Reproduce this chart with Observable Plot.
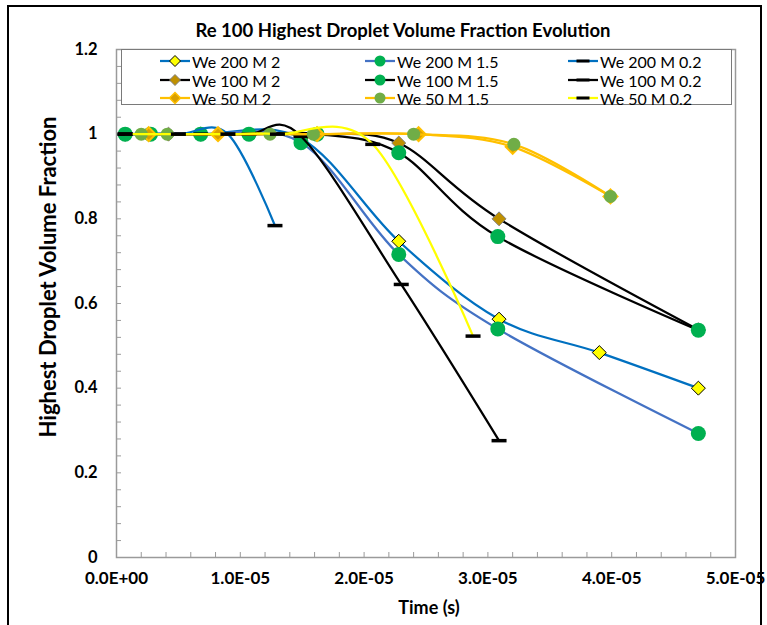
<!DOCTYPE html>
<html>
<head>
<meta charset="utf-8">
<script src="https://cdn.jsdelivr.net/npm/d3@7"></script>
<script src="https://cdn.jsdelivr.net/npm/@observablehq/plot@0.6"></script>
<style>
  body { margin: 0; background: #fff; font-family: Lato, "Open Sans", sans-serif; }
  #wrap { position: relative; width: 767px; height: 625px; overflow: hidden; background: #fff; }
  #chart { position: absolute; left: 0; top: 0; }
  #border { position: absolute; left: 7px; top: 5px; width: 755px; height: 700px; border: 2px solid #000; box-sizing: border-box; pointer-events: none; }
  .ttl { position: absolute; font-weight: bold; color: #000; text-align: center; white-space: nowrap; }
  #legend { position: absolute; left: 121px; top: 49px; width: 611px; height: 56px; border: 1px solid #7a7a7a; background: #fff; box-sizing: border-box; }
  .li { position: absolute; height: 18px; display: flex; align-items: center; font-size: 16px; color: #000; white-space: nowrap; }
  .li svg { margin-right: 2px; }
</style>
</head>
<body>
<div id="wrap">
  <div id="chart"></div>
  <div class="ttl" id="title" style="left:103px; top:19px; width:600px; font-size:18.5px; line-height:22px;"></div>
  <div class="ttl" id="ylab" style="left:-152px; top:264px; width:400px; font-size:22px; line-height:26px; transform:rotate(-90deg);"></div>
  <div class="ttl" id="xlab" style="left:329px; top:596px; width:200px; font-size:18px; line-height:22px;"></div>
  <div id="legend"></div>
  <div id="border"></div>
</div>
<script>
// ---- Text ----
const chartTitle = "Re 100 Highest Droplet Volume Fraction Evolution";
const yTitle = "Highest Droplet Volume Fraction";
const xTitle = "Time (s)";

// ---- Tick labels ----
const xTicks = [0, 1e-5, 2e-5, 3e-5, 4e-5, 5e-5];
const yTicks = [0, 0.2, 0.4, 0.6, 0.8, 1, 1.2];

// ---- Series names ----
const seriesNames = ["We 200 M 2", "We 100 M 2", "We 50 M 2",
                     "We 200 M 1.5", "We 100 M 1.5", "We 50 M 1.5",
                     "We 200 M 0.2", "We 100 M 0.2", "We 50 M 0.2"];

// ---- Series values (time in s, volume fraction) ----
const t_we200_m2  = [0.07e-5, 0.68e-5, 1.49e-5, 2.28e-5, 3.09e-5, 3.90e-5, 4.70e-5];
const v_we200_m2  = [1, 1, 0.99, 0.747, 0.563, 0.484, 0.400];
const t_we200_m15 = [0.07e-5, 0.68e-5, 1.49e-5, 2.28e-5, 3.08e-5, 4.70e-5];
const v_we200_m15 = [1, 1, 0.980, 0.716, 0.540, 0.293];
const t_we200_m02 = [0.07e-5, 0.50e-5, 0.90e-5, 1.28e-5];
const v_we200_m02 = [1, 1, 1, 0.784];
const t_we100_m2  = [0.42e-5, 1.08e-5, 1.62e-5, 2.28e-5, 3.09e-5, 4.70e-5];
const v_we100_m2  = [1, 1, 1, 0.979, 0.800, 0.538];
const t_we100_m15 = [0.275e-5, 1.07e-5, 1.62e-5, 2.28e-5, 3.08e-5, 4.70e-5];
const v_we100_m15 = [1, 1, 1, 0.956, 0.758, 0.537];
const t_we100_m02 = [0.07e-5, 0.68e-5, 1.07e-5, 1.49e-5, 2.30e-5, 3.09e-5];
const v_we100_m02 = [1, 1, 1, 0.995, 0.645, 0.276];
const t_we50_m2   = [0.26e-5, 0.82e-5, 1.62e-5, 2.44e-5, 3.20e-5, 3.99e-5];
const v_we50_m2   = [1, 1, 1, 1, 0.970, 0.853];
const t_we50_m15  = [0.20e-5, 0.41e-5, 1.24e-5, 1.59e-5, 2.40e-5, 3.21e-5, 3.99e-5];
const v_we50_m15  = [1, 1, 1, 1, 1, 0.976, 0.853];
const t_we50_m02  = [0.07e-5, 0.50e-5, 0.90e-5, 1.30e-5, 2.07e-5, 2.88e-5];
const v_we50_m02  = [1, 1, 1, 1, 0.976, 0.523];

// ---- Styles (drawing order = Excel series order) ----
const dashSymbol = { draw(ctx) { ctx.rect(-7.5, -1.75, 15, 3.5); } };
const styles = {
  "We 200 M 2":   { line: "#0070C0", symbol: "diamond2", r: 6.3, fill: "#FFFF00", stroke: "#000", sw: 1 },
  "We 200 M 1.5": { line: "#4472C4", symbol: "circle",   r: 7.5, fill: "#00B050", stroke: "none", sw: 0 },
  "We 200 M 0.2": { line: "#0070C0", symbol: dashSymbol, r: 5,   fill: "#000",    stroke: "none", sw: 0 },
  "We 100 M 2":   { line: "#000000", symbol: "diamond2", r: 6.3, fill: "#BF9000", stroke: "#7F7F7F", sw: 1 },
  "We 100 M 1.5": { line: "#000000", symbol: "circle",   r: 7.5, fill: "#00B050", stroke: "none", sw: 0 },
  "We 100 M 0.2": { line: "#000000", symbol: dashSymbol, r: 5,   fill: "#000",    stroke: "none", sw: 0 },
  "We 50 M 2":    { line: "#FFC000", symbol: "diamond2", r: 6.3, fill: "#D9A000", stroke: "#FFC000", sw: 2 },
  "We 50 M 1.5":  { line: "#FFC000", symbol: "circle",   r: 6.5, fill: "#70AD47", stroke: "none", sw: 0 },
  "We 50 M 0.2":  { line: "#FFFF00", symbol: dashSymbol, r: 5,   fill: "#000",    stroke: "none", sw: 0 }
};

const seriesData = [
  ["We 200 M 2", t_we200_m2, v_we200_m2],
  ["We 200 M 1.5", t_we200_m15, v_we200_m15],
  ["We 200 M 0.2", t_we200_m02, v_we200_m02],
  ["We 100 M 2", t_we100_m2, v_we100_m2],
  ["We 100 M 1.5", t_we100_m15, v_we100_m15],
  ["We 100 M 0.2", t_we100_m02, v_we100_m02],
  ["We 50 M 2", t_we50_m2, v_we50_m2],
  ["We 50 M 1.5", t_we50_m15, v_we50_m15],
  ["We 50 M 0.2", t_we50_m02, v_we50_m02]
];

function fmtExp(d) {
  const [m, e] = d.toExponential(1).split("e");
  const sign = e[0] === "-" ? "-" : "+";
  const digits = e.replace(/^[+-]/, "").padStart(2, "0");
  return `${m}E${sign}${digits}`;
}

const xMinor = d3.range(0, 26).map(i => i * 2e-6);
const yMinor = d3.range(0, 31).map(i => i * 0.04);

const marks = [];
for (const [name, ts, vs] of seriesData) {
  const rows = ts.map((t, i) => ({ t, v: vs[i] }));
  const s = styles[name];
  marks.push(Plot.line(rows, { x: "t", y: "v", stroke: s.line, strokeWidth: 2.25, curve: "cardinal" }));
  marks.push(Plot.dot(rows, { x: "t", y: "v", symbol: s.symbol, r: s.r, fill: s.fill, stroke: s.stroke, strokeWidth: s.sw }));
}

const plot = Plot.plot({
  width: 767,
  height: 625,
  marginLeft: 116,
  marginRight: 32,
  marginTop: 49,
  marginBottom: 68,
  style: { fontFamily: "Lato, 'Open Sans', sans-serif", fontSize: "17px", fontWeight: "bold", color: "#000", background: "transparent" },
  x: { domain: [0, 5e-5] },
  y: { domain: [0, 1.2] },
  marks: [
    Plot.axisX(xMinor, { tickSize: -5, stroke: "#9a9a9a", fill: "none", label: null }),
    Plot.axisY(yMinor, { tickSize: -5, stroke: "#9a9a9a", fill: "none", label: null }),
    Plot.axisX(xTicks, { tickSize: 0, tickPadding: 14, tickFormat: fmtExp, label: null, fontSize: 17, fill: "#000" }),
    Plot.axisY(yTicks, { tickSize: 0, tickPadding: 19, tickFormat: d => String(+d.toFixed(1)), label: null, fontSize: 16.5, fill: "#000" }),
    Plot.frame({ stroke: "#9a9a9a", strokeWidth: 1.5 }),
    ...marks
  ]
});
document.getElementById("chart").appendChild(plot);

document.getElementById("title").textContent = chartTitle;
document.getElementById("ylab").textContent = yTitle;
document.getElementById("xlab").textContent = xTitle;

// ---- Legend (3 columns x 3 rows, Excel order row-wise) ----
const legendOrder = ["We 200 M 2", "We 200 M 1.5", "We 200 M 0.2",
                     "We 100 M 2", "We 100 M 1.5", "We 100 M 0.2",
                     "We 50 M 2", "We 50 M 1.5", "We 50 M 0.2"];
const colX = [38, 243, 446];
const rowY = [2, 21, 39];
const legend = document.getElementById("legend");
const NS = "http://www.w3.org/2000/svg";
legendOrder.forEach((name, i) => {
  const s = styles[name];
  const item = document.createElement("div");
  item.className = "li";
  item.style.left = colX[i % 3] + "px";
  item.style.top = rowY[Math.floor(i / 3)] + "px";
  const svg = document.createElementNS(NS, "svg");
  svg.setAttribute("width", 30); svg.setAttribute("height", 14);
  const ln = document.createElementNS(NS, "line");
  ln.setAttribute("x1", 0); ln.setAttribute("x2", 30); ln.setAttribute("y1", 7); ln.setAttribute("y2", 7);
  ln.setAttribute("stroke", s.line); ln.setAttribute("stroke-width", 2.25);
  svg.appendChild(ln);
  let m;
  if (s.symbol === "circle") {
    m = document.createElementNS(NS, "circle");
    m.setAttribute("cx", 15); m.setAttribute("cy", 7); m.setAttribute("r", 5.5);
  } else if (s.symbol === "diamond2") {
    m = document.createElementNS(NS, "path");
    m.setAttribute("d", "M15,1.5L20.5,7L15,12.5L9.5,7Z");
  } else {
    m = document.createElementNS(NS, "rect");
    m.setAttribute("x", 8.5); m.setAttribute("y", 5.5); m.setAttribute("width", 13); m.setAttribute("height", 3);
  }
  m.setAttribute("fill", s.fill);
  if (s.stroke !== "none") { m.setAttribute("stroke", s.stroke); m.setAttribute("stroke-width", Math.min(s.sw, 1.5)); }
  svg.appendChild(m);
  item.appendChild(svg);
  const sp = document.createElement("span");
  sp.textContent = name;
  item.appendChild(sp);
  legend.appendChild(item);
});
</script>
</body>
</html>
